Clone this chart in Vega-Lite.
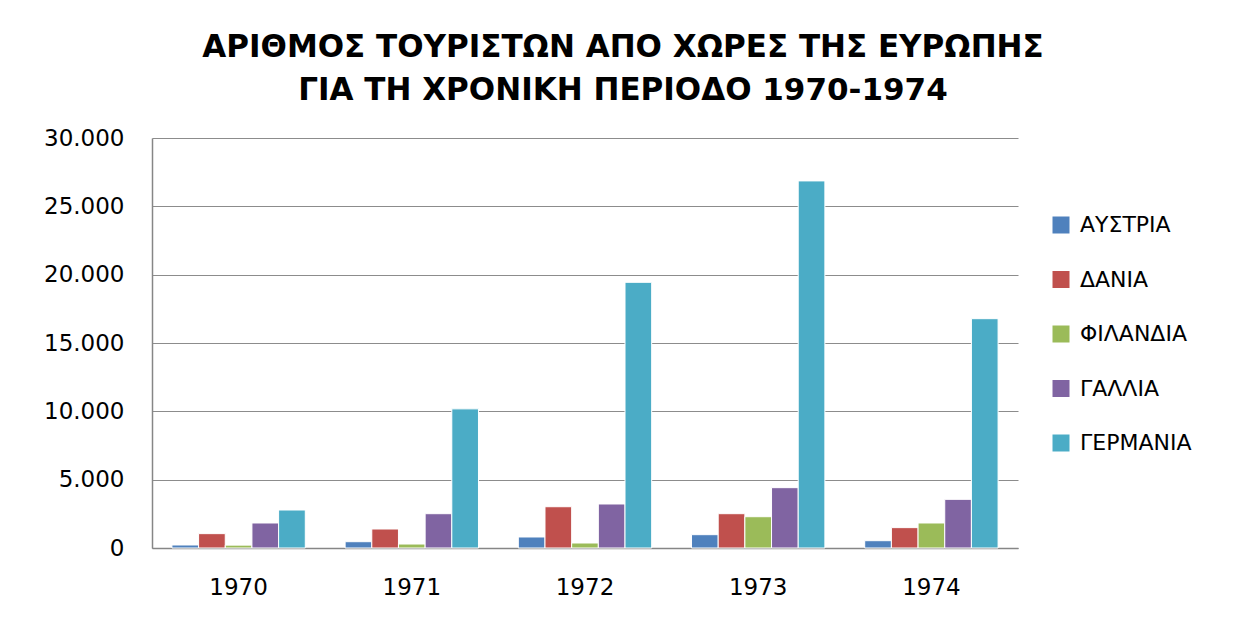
{
  "$schema": "https://vega.github.io/schema/vega-lite/v6.json",
  "width": 866,
  "height": 410,
  "autosize": {"type": "none"},
  "padding": {"left": 152, "top": 138, "right": 229, "bottom": 78},
  "background": "white",
  "title": {
    "text": ["ΑΡΙΘΜΟΣ  ΤΟΥΡΙΣΤΩΝ ΑΠΟ ΧΩΡΕΣ ΤΗΣ ΕΥΡΩΠΗΣ", "ΓΙΑ ΤΗ ΧΡΟΝΙΚΗ ΠΕΡΙΟΔΟ 1970-1974"],
    "anchor": "middle",
    "frame": "group",
    "dx": 38,
    "offset": 20,
    "font": "DejaVu Sans",
    "fontSize": 31,
    "fontWeight": "bold",
    "lineHeight": 43,
    "color": "#000000"
  },
  "data": {
    "values": [
      {"year": "1970", "country": "ΑΥΣΤΡΙΑ", "tourists": 220},
      {"year": "1970", "country": "ΔΑΝΙΑ", "tourists": 1050},
      {"year": "1970", "country": "ΦΙΛΑΝΔΙΑ", "tourists": 210},
      {"year": "1970", "country": "ΓΑΛΛΙΑ", "tourists": 1830},
      {"year": "1970", "country": "ΓΕΡΜΑΝΙΑ", "tourists": 2780},
      {"year": "1971", "country": "ΑΥΣΤΡΙΑ", "tourists": 460},
      {"year": "1971", "country": "ΔΑΝΙΑ", "tourists": 1390},
      {"year": "1971", "country": "ΦΙΛΑΝΔΙΑ", "tourists": 290},
      {"year": "1971", "country": "ΓΑΛΛΙΑ", "tourists": 2510},
      {"year": "1971", "country": "ΓΕΡΜΑΝΙΑ", "tourists": 10180},
      {"year": "1972", "country": "ΑΥΣΤΡΙΑ", "tourists": 805},
      {"year": "1972", "country": "ΔΑΝΙΑ", "tourists": 3020},
      {"year": "1972", "country": "ΦΙΛΑΝΔΙΑ", "tourists": 365},
      {"year": "1972", "country": "ΓΑΛΛΙΑ", "tourists": 3220},
      {"year": "1972", "country": "ΓΕΡΜΑΝΙΑ", "tourists": 19440},
      {"year": "1973", "country": "ΑΥΣΤΡΙΑ", "tourists": 975},
      {"year": "1973", "country": "ΔΑΝΙΑ", "tourists": 2510},
      {"year": "1973", "country": "ΦΙΛΑΝΔΙΑ", "tourists": 2290},
      {"year": "1973", "country": "ΓΑΛΛΙΑ", "tourists": 4415},
      {"year": "1973", "country": "ΓΕΡΜΑΝΙΑ", "tourists": 26860},
      {"year": "1974", "country": "ΑΥΣΤΡΙΑ", "tourists": 535},
      {"year": "1974", "country": "ΔΑΝΙΑ", "tourists": 1490},
      {"year": "1974", "country": "ΦΙΛΑΝΔΙΑ", "tourists": 1830},
      {"year": "1974", "country": "ΓΑΛΛΙΑ", "tourists": 3560},
      {"year": "1974", "country": "ΓΕΡΜΑΝΙΑ", "tourists": 16780}
    ]
  },
  "mark": {"type": "bar", "stroke": "white", "strokeWidth": 1},
  "encoding": {
    "x": {
      "field": "year",
      "type": "nominal",
      "scale": {"paddingInner": 0.23, "paddingOuter": 0.115},
      "axis": {
        "title": null,
        "labelAngle": 0,
        "ticks": false,
        "labelPadding": 28,
        "labelFont": "DejaVu Sans",
        "labelFontSize": 23,
        "labelColor": "#000000",
        "domainColor": "#868686",
        "domainWidth": 1.5
      }
    },
    "xOffset": {
      "field": "country",
      "type": "nominal",
      "sort": ["ΑΥΣΤΡΙΑ", "ΔΑΝΙΑ", "ΦΙΛΑΝΔΙΑ", "ΓΑΛΛΙΑ", "ΓΕΡΜΑΝΙΑ"],
      "scale": {"paddingInner": 0, "paddingOuter": 0}
    },
    "y": {
      "field": "tourists",
      "type": "quantitative",
      "scale": {"domain": [0, 30000], "nice": false},
      "axis": {
        "title": null,
        "values": [0, 5000, 10000, 15000, 20000, 25000, 30000],
        "labelExpr": "replace(format(datum.value, ','), ',', '.')",
        "ticks": false,
        "labelPadding": 28,
        "labelFont": "DejaVu Sans",
        "labelFontSize": 23,
        "labelColor": "#000000",
        "grid": true,
        "gridColor": "#8c8c8c",
        "gridWidth": 1.2,
        "domainColor": "#868686",
        "domainWidth": 1.5
      }
    },
    "color": {
      "field": "country",
      "type": "nominal",
      "scale": {
        "domain": ["ΑΥΣΤΡΙΑ", "ΔΑΝΙΑ", "ΦΙΛΑΝΔΙΑ", "ΓΑΛΛΙΑ", "ΓΕΡΜΑΝΙΑ"],
        "range": ["#4F81BD", "#C0504D", "#9BBB59", "#8064A2", "#4BACC6"]
      },
      "legend": {
        "title": null,
        "orient": "none",
        "legendX": 898,
        "legendY": 76,
        "symbolType": "square",
        "symbolSize": 289,
        "symbolStrokeWidth": 0,
        "labelFont": "DejaVu Sans",
        "labelFontSize": 22,
        "labelColor": "#000000",
        "labelOffset": 8,
        "rowPadding": 32.5
      }
    }
  },
  "config": {
    "view": {"stroke": null},
    "axis": {"gridOpacity": 1}
  }
}
